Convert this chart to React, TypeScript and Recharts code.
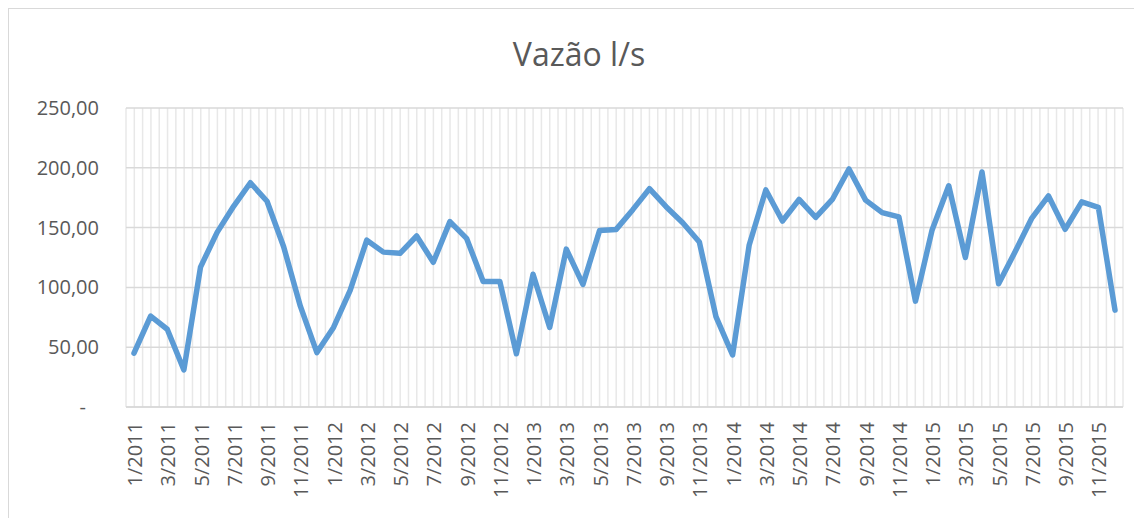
import { CartesianGrid, Line, LineChart, XAxis, YAxis } from "recharts";

const years = [2011, 2012, 2013, 2014, 2015];
const months = [1, 2, 3, 4, 5, 6, 7, 8, 9, 10, 11, 12];

const flow2011 = [45, 76, 65, 31, 117, 146, 168, 187.5, 172, 134, 84.5, 45.5];
const flow2012 = [66.5, 97.5, 139.5, 129.5, 128.5, 143, 121, 155, 141, 105, 105, 44.5];
const flow2013 = [111, 66.5, 132, 102.5, 147.5, 148.5, 165, 182.5, 167.5, 154, 138, 75.5];
const flow2014 = [43.5, 135.5, 181.5, 155.5, 173.5, 158.5, 173.5, 199, 173, 162.5, 159, 88.5];
const flow2015 = [148, 185, 125, 196.5, 103, 130, 158, 176.5, 148.5, 171.5, 167, 81];

const yTicks = [0, 50, 100, 150, 200, 250];

const labels = years.flatMap((y) => months.map((m) => `${m}/${y}`));
const values = [...flow2011, ...flow2012, ...flow2013, ...flow2014, ...flow2015];
const data = labels.map((label, i) => ({ label, vazao: values[i] }));

const FONT = "'Open Sans', sans-serif";
const TEXT = "#595959";

function YTick({ x, y, payload }: any) {
  const v = payload.value as number;
  const text = v === 0 ? "-" : v.toFixed(2).replace(".", ",");
  return (
    <text x={v === 0 ? x - 32 : x - 19} y={y} dy={7} textAnchor="end" fill={TEXT} fontSize={20} fontFamily={FONT}>
      {text}
    </text>
  );
}

function XTick({ x, y, payload }: any) {
  return (
    <text
      x={x}
      y={y}
      transform={`rotate(-90 ${x} ${y})`}
      dx={-7}
      dy={8}
      textAnchor="end"
      fill={TEXT}
      fontSize={20}
      fontFamily={FONT}
    >
      {payload.value}
    </text>
  );
}

export default function App() {
  return (
    <div
      style={{
        position: "relative",
        width: 1134,
        height: 510,
        borderLeft: "1px solid #d9d9d9",
        borderTop: "1px solid #d9d9d9",
        boxSizing: "border-box",
        background: "#fff",
      }}
    >
      <div
        style={{
          position: "absolute",
          top: 23,
          left: 3,
          width: 1134,
          textAlign: "center",
          fontFamily: FONT,
          fontSize: 32,
          color: TEXT,
        }}
      >
        Vazão l/s
      </div>
      <LineChart width={1133} height={509} data={data} margin={{ top: 99, right: 19, left: 0, bottom: 0 }}>
        <CartesianGrid
          horizontal={false}
          stroke="#e8e8e8"
          strokeWidth={1.5}
          verticalCoordinatesGenerator={({ offset }: any) =>
            Array.from({ length: data.length * 2 + 1 }, (_, k) => offset.left + (k * offset.width) / (data.length * 2))
          }
        />
        <CartesianGrid vertical={false} stroke="#d9d9d9" strokeWidth={1.5} />
        <XAxis
          dataKey="label"
          interval={1}
          padding={{ left: 8, right: 8 }}
          axisLine={{ stroke: "#d9d9d9", strokeWidth: 1.5 }}
          tickLine={false}
          tick={<XTick />}
          height={111}
        />
        <YAxis
          domain={[0, 250]}
          ticks={yTicks}
          axisLine={false}
          tickLine={false}
          tick={<YTick />}
          width={117}
        />
        <Line
          type="linear"
          dataKey="vazao"
          stroke="#5b9bd5"
          strokeWidth={5.5}
          strokeLinejoin="round"
          strokeLinecap="round"
          dot={false}
          activeDot={false}
          isAnimationActive={false}
        />
      </LineChart>
    </div>
  );
}
